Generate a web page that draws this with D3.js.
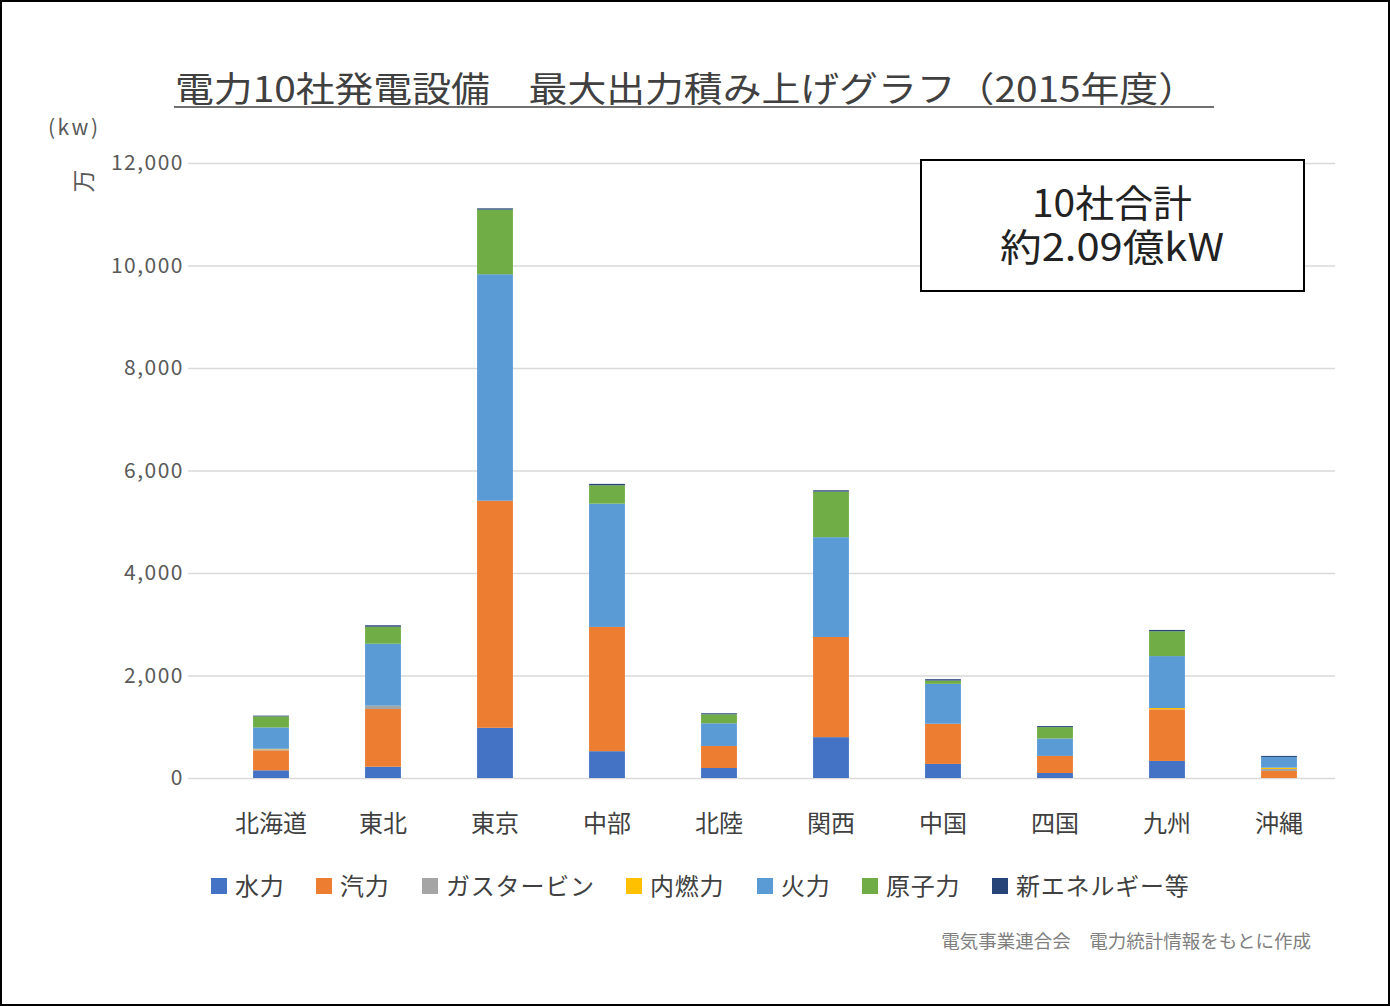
<!DOCTYPE html>
<html>
<head>
<meta charset="utf-8">
<script src="https://cdn.jsdelivr.net/npm/d3@7"></script>
<style>
  body { margin: 0; background: #fff; }
  svg { display: block; font-family: "Noto Sans CJK JP", "Noto Sans", sans-serif; }
</style>
</head>
<body>
<svg id="chart" width="1390" height="1006"></svg>
<script>
// data, 万kW
const companies = ["北海道", "東北", "東京", "中部", "北陸", "関西", "中国", "四国", "九州", "沖縄"];
const seriesNames = ["水力", "汽力", "ガスタービン", "内燃力", "火力", "原子力", "新エネルギー等"];
const seriesColors = ["#4472C4", "#ED7D31", "#A5A5A5", "#FFC000", "#5B9BD5", "#70AD47", "#264478"];

const hydro   = [150, 220, 980, 523, 195, 797, 275, 98, 333, 0];
const steam   = [390, 1126, 4430, 2425, 430, 1955, 784, 333, 1007, 137];
const gasTurb = [20, 65, 0, 0, 0, 0, 0, 0, 0, 39];
const diesel  = [10, 0, 0, 0, 0, 0, 0, 0, 26, 26];
const thermal = [417, 1209, 4420, 2405, 443, 1947, 778, 340, 1013, 209];
const nuclear = [215, 332, 1260, 359, 175, 889, 65, 222, 484, 0];
const newEne  = [15, 28, 25, 27, 20, 26, 26, 20, 26, 20];

const yTicks = [0, 2000, 4000, 6000, 8000, 10000, 12000];

const allSeries = [hydro, steam, gasTurb, diesel, thermal, nuclear, newEne];
const table = companies.map((c, i) => {
    let row = { company: c };
    seriesNames.forEach((s, k) => row[s] = allSeries[k][i]);
    return row;
});

const svg = d3.select("#chart");
const W = 1390, H = 1006;

// frame
svg.append("rect")
    .attr("x", 1).attr("y", 1).attr("width", W - 2).attr("height", H - 2)
    .attr("fill", "#fff").attr("stroke", "#000").attr("stroke-width", 2);

const plot = { left: 215, right: 1335, top: 163, bottom: 778 };

const x = d3.scaleBand().domain(companies).range([plot.left, plot.right]).paddingInner(0.68).paddingOuter(0.34);
const y = d3.scaleLinear().domain([0, 12000]).range([plot.bottom, plot.top]);

// title (source font is much wider, so stretch it)
svg.append("text")
    .attr("x", 175).attr("y", 102)
    .attr("font-size", 35)
    .attr("fill", "#404040")
    .attr("textLength", 1022)
    .attr("lengthAdjust", "spacingAndGlyphs")
    .text("電力10社発電設備　最大出力積み上げグラフ（2015年度）");
svg.append("line")
    .attr("x1", 174).attr("x2", 1214).attr("y1", 107).attr("y2", 107)
    .attr("stroke", "#404040").attr("stroke-width", 1.5);

// gridlines
svg.append("g")
    .selectAll("line")
    .data(yTicks)
    .join("line")
    .attr("x1", plot.left - 27).attr("x2", plot.right)
    .attr("y1", d => y(d) + 0.5).attr("y2", d => y(d) + 0.5)
    .attr("stroke", "#d9d9d9").attr("stroke-width", 1.3);

// y axis labels
const yAxis = svg.append("g")
    .attr("transform", `translate(${plot.left - 31},0)`)
    .call(d3.axisLeft(y).tickValues(yTicks).tickSize(0).tickPadding(0).tickFormat(d3.format(",")));
yAxis.select(".domain").remove();
yAxis.selectAll("text")
    .attr("font-size", 21)
    .attr("letter-spacing", 1.5)
    .attr("fill", "#595959")
    .attr("font-family", "'Noto Sans CJK JP', sans-serif");

svg.append("text")
    .attr("x", 48).attr("y", 135)
    .attr("font-size", 21).attr("fill", "#595959")
    .attr("textLength", 50)
    .text("(kw)");
svg.append("text")
    .attr("transform", "translate(92,181) rotate(-90)")
    .attr("text-anchor", "middle")
    .attr("font-size", 23).attr("fill", "#595959")
    .text("万");

// stacked bars
const stack = d3.stack().keys(seriesNames);
const layers = stack(table);

svg.append("g")
    .selectAll("g")
    .data(layers)
    .join("g")
    .attr("fill", (d, k) => seriesColors[k])
    .selectAll("rect")
    .data(d => d)
    .join("rect")
    .attr("x", d => x(d.data.company))
    .attr("width", x.bandwidth())
    .attr("y", d => y(d[1]))
    .attr("height", d => y(d[0]) - y(d[1]));

// x labels
const xAxis = svg.append("g")
    .attr("transform", `translate(0,${plot.bottom + 36})`)
    .call(d3.axisBottom(x).tickSize(0).tickPadding(0));
xAxis.select(".domain").remove();
xAxis.selectAll("text")
    .attr("font-size", 24)
    .attr("fill", "#404040")
    .attr("dy", "0.75em")
    .attr("font-family", "'Noto Sans CJK JP', sans-serif");

// legend
const legendX = [211, 316, 422, 626, 757, 862, 992];
const legend = svg.append("g");
seriesNames.forEach((s, k) => {
    legend.append("rect")
        .attr("x", legendX[k]).attr("y", 878)
        .attr("width", 16).attr("height", 16)
        .attr("fill", seriesColors[k]);
    legend.append("text")
        .attr("x", legendX[k] + 24).attr("y", 895)
        .attr("font-size", 24).attr("letter-spacing", 0.8).attr("fill", "#404040")
        .text(s);
});

// total box
svg.append("rect")
    .attr("x", 921).attr("y", 160).attr("width", 383).attr("height", 131)
    .attr("fill", "#fff").attr("stroke", "#000").attr("stroke-width", 2);
const boxText = svg.append("text")
    .attr("text-anchor", "middle")
    .attr("font-size", 38).attr("fill", "#222");
boxText.append("tspan")
    .attr("x", 1112).attr("y", 217)
    .attr("textLength", 160).attr("lengthAdjust", "spacingAndGlyphs")
    .text("10社合計");
boxText.append("tspan")
    .attr("x", 1112).attr("y", 261)
    .attr("textLength", 224).attr("lengthAdjust", "spacingAndGlyphs")
    .text("約2.09億kW");

// source
svg.append("text")
    .attr("x", 1311).attr("y", 948)
    .attr("text-anchor", "end")
    .attr("font-size", 18.5).attr("fill", "#7f7f7f")
    .text("電気事業連合会　電力統計情報をもとに作成");
</script>
</body>
</html>
